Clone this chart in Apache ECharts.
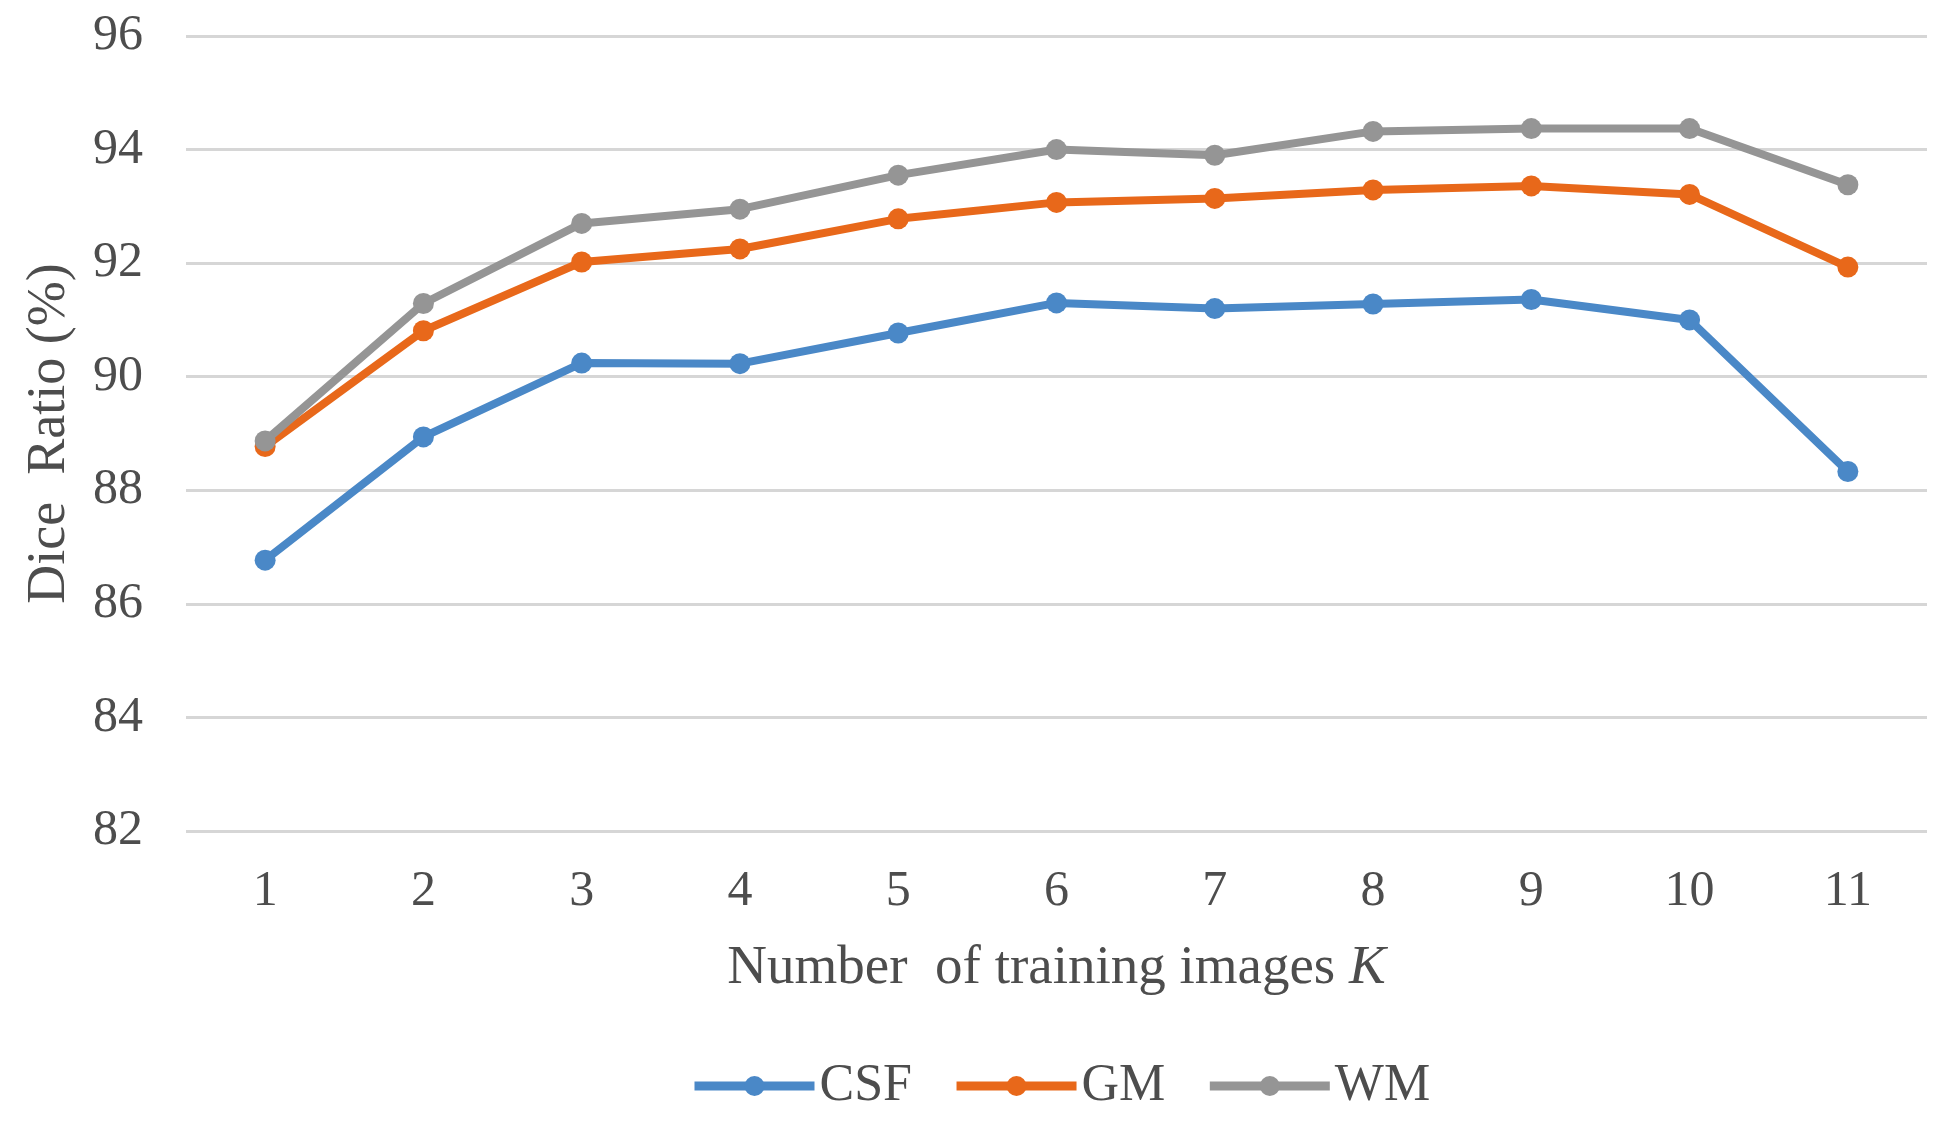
<!DOCTYPE html>
<html>
<head>
<meta charset="utf-8">
<script src="https://cdn.jsdelivr.net/npm/echarts@6/dist/echarts.min.js"></script>
<style>
html,body{margin:0;padding:0;background:#fff;}
#chart{width:1950px;height:1122px;}
</style>
</head>
<body>
<div id="chart"></div>
<script>
const categories = ['1','2','3','4','5','6','7','8','9','10','11'];
const csf = [86.77, 88.94, 90.24, 90.23, 90.77, 91.30, 91.20, 91.28, 91.36, 91.00, 88.33];
const gm  = [88.77, 90.81, 92.02, 92.25, 92.78, 93.07, 93.14, 93.29, 93.36, 93.21, 91.93];
const wm  = [88.87, 91.29, 92.70, 92.95, 93.55, 94.00, 93.90, 94.32, 94.37, 94.37, 93.38];
const seriesNames = ['CSF', 'GM', 'WM'];
const colors = ['#4A88C7', '#E8681A', '#959595'];

const FONT = 'Liberation Serif';
const TXT = '#4d4d4d';

const chart = echarts.init(document.getElementById('chart'), null, {renderer: 'canvas'});

function mk(name, data, color) {
  return {
    name: name,
    type: 'line',
    data: data,
    symbol: 'circle',
    symbolSize: 21,
    lineStyle: {width: 8, color: color},
    itemStyle: {color: color},
    emphasis: {disabled: true},
    animation: false
  };
}

chart.setOption({
  backgroundColor: '#ffffff',
  animation: false,
  color: colors,
  grid: {left: 186, right: 23, top: 36, bottom: 291},
  xAxis: {
    type: 'category',
    data: categories,
    boundaryGap: true,
    axisLine: {show: false},
    axisTick: {show: false},
    axisLabel: {fontFamily: FONT, fontSize: 50, color: TXT, margin: 36},
    name: '{n|Number  of training images }{k|K}',
    nameLocation: 'middle',
    nameGap: 110,
    nameTextStyle: {
      rich: {
        n: {fontFamily: FONT, fontSize: 55, color: TXT},
        k: {fontFamily: FONT, fontSize: 55, color: TXT, fontStyle: 'italic'}
      }
    }
  },
  yAxis: {
    type: 'value',
    min: 82,
    max: 96,
    interval: 2,
    axisLine: {show: false},
    axisTick: {show: false},
    axisLabel: {fontFamily: FONT, fontSize: 50, color: TXT, margin: 43},
    splitLine: {lineStyle: {color: '#D6D6D6', width: 3}},
    name: 'Dice  Ratio (%)',
    nameLocation: 'middle',
    nameGap: 109,
    nameRotate: 90,
    nameTextStyle: {fontFamily: FONT, fontSize: 54, color: TXT}
  },
  legend: {
    data: seriesNames,
    left: 685,
    top: 1055,
    itemWidth: 120,
    itemHeight: 25,
    itemGap: 40,
    lineStyle: {width: 9},
    textStyle: {fontFamily: FONT, fontSize: 52, color: TXT, padding: [0,0,0,0]}
  },
  series: [
    mk(seriesNames[0], csf, colors[0]),
    mk(seriesNames[1], gm, colors[1]),
    mk(seriesNames[2], wm, colors[2])
  ]
});
</script>
</body>
</html>
